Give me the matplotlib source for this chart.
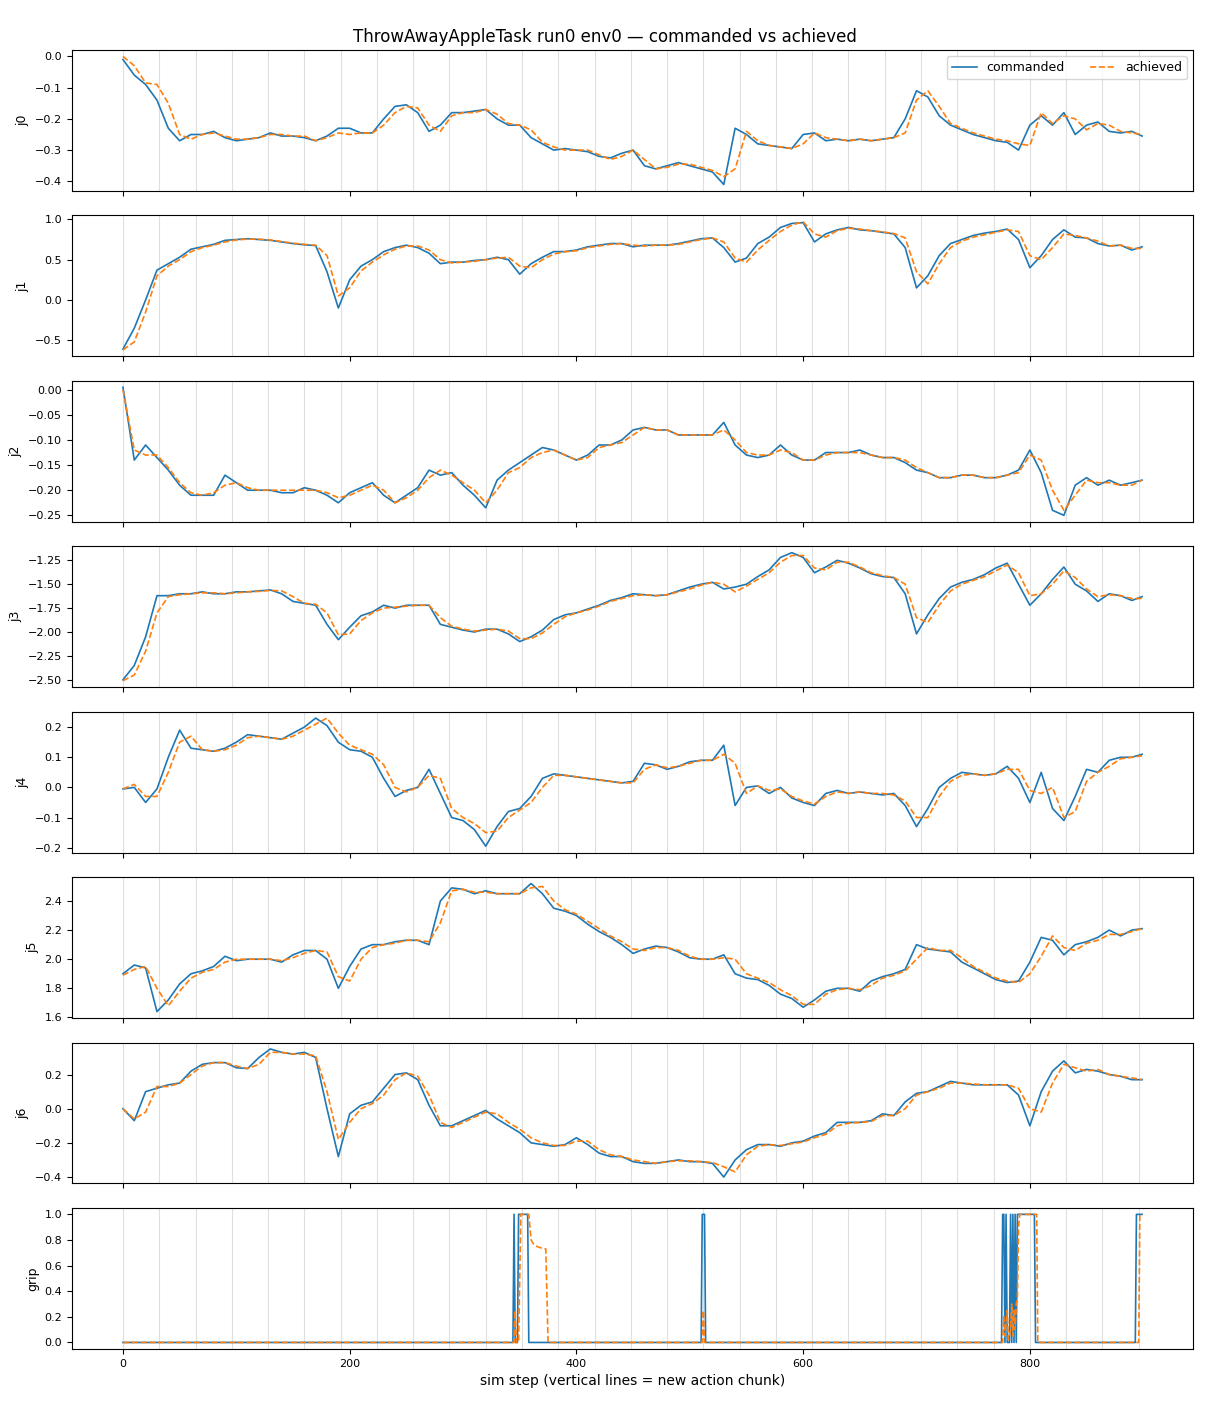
import matplotlib
matplotlib.use("Agg")
import matplotlib.pyplot as plt

# sim steps sampled every 10 steps (last one is the final step)
STEPS = list(range(0, 900, 10)) + [899]
CHUNK_STARTS = list(range(0, 900, 32))

J0_CMD = [-0.01, -0.06, -0.09, -0.14, -0.23, -0.27, -0.25, -0.25, -0.24, -0.26,
          -0.27, -0.265, -0.26, -0.245, -0.255, -0.255, -0.26, -0.27, -0.255, -0.23,
          -0.23, -0.245, -0.245, -0.2, -0.16, -0.155, -0.18, -0.24, -0.22, -0.18,
          -0.18, -0.175, -0.17, -0.2, -0.22, -0.22, -0.26, -0.28, -0.3, -0.295,
          -0.3, -0.305, -0.32, -0.325, -0.31, -0.3, -0.35, -0.36, -0.35, -0.34,
          -0.35, -0.36, -0.37, -0.41, -0.23, -0.25, -0.28, -0.285, -0.29, -0.295,
          -0.25, -0.245, -0.27, -0.265, -0.27, -0.265, -0.27, -0.265, -0.26, -0.2,
          -0.11, -0.13, -0.19, -0.22, -0.235, -0.25, -0.26, -0.27, -0.275, -0.3,
          -0.22, -0.19, -0.22, -0.18, -0.25, -0.22, -0.21, -0.24, -0.245, -0.24,
          -0.255]
J0_ACH = [0.0, -0.03, -0.085, -0.09, -0.15, -0.25, -0.265, -0.25, -0.245, -0.255,
          -0.265, -0.265, -0.26, -0.25, -0.25, -0.255, -0.255, -0.27, -0.26, -0.245,
          -0.25, -0.245, -0.245, -0.22, -0.18, -0.16, -0.165, -0.22, -0.24, -0.19,
          -0.18, -0.18, -0.17, -0.185, -0.215, -0.22, -0.235, -0.275, -0.29, -0.3,
          -0.3, -0.3, -0.315, -0.33, -0.32, -0.3, -0.33, -0.36, -0.355, -0.345,
          -0.345, -0.355, -0.365, -0.385, -0.36, -0.24, -0.27, -0.285, -0.29, -0.295,
          -0.28, -0.245, -0.26, -0.265, -0.27, -0.265, -0.27, -0.265, -0.26, -0.245,
          -0.14, -0.11, -0.16, -0.215, -0.23, -0.245, -0.255, -0.265, -0.27, -0.28,
          -0.285, -0.18, -0.215, -0.19, -0.2, -0.235, -0.215, -0.22, -0.24, -0.245,
          -0.25]

J1_CMD = [-0.61, -0.35, 0.0, 0.37, 0.45, 0.53, 0.63, 0.66, 0.69, 0.74,
          0.75, 0.76, 0.75, 0.74, 0.72, 0.7, 0.685, 0.675, 0.35, -0.1,
          0.25, 0.42, 0.5, 0.6, 0.65, 0.68, 0.65, 0.58, 0.45, 0.47,
          0.47, 0.49, 0.5, 0.53, 0.5, 0.32, 0.45, 0.53, 0.6, 0.6,
          0.62, 0.66, 0.68, 0.7, 0.7, 0.66, 0.68, 0.68, 0.68, 0.7,
          0.73, 0.76, 0.77, 0.65, 0.47, 0.52, 0.7, 0.78, 0.9, 0.95,
          0.96, 0.72, 0.82, 0.87, 0.9, 0.87, 0.86, 0.84, 0.82, 0.65,
          0.15, 0.3, 0.55, 0.7, 0.75, 0.8, 0.83, 0.85, 0.88, 0.75,
          0.4, 0.55, 0.75, 0.87, 0.78, 0.77, 0.7, 0.67, 0.68, 0.62,
          0.66]
J1_ACH = [-0.62, -0.52, -0.15, 0.3, 0.42, 0.5, 0.6, 0.65, 0.68, 0.72,
          0.745, 0.755, 0.755, 0.745, 0.725, 0.705, 0.69, 0.68, 0.55, 0.05,
          0.15, 0.36, 0.47, 0.56, 0.63, 0.67, 0.67, 0.62, 0.5, 0.46,
          0.47, 0.48, 0.5, 0.52, 0.53, 0.42, 0.4, 0.5, 0.57, 0.6,
          0.61, 0.65, 0.67, 0.69, 0.7, 0.68, 0.67, 0.68, 0.68, 0.69,
          0.72, 0.75, 0.77, 0.72, 0.52, 0.47, 0.62, 0.74, 0.85, 0.93,
          0.97, 0.82, 0.78, 0.86, 0.89, 0.88, 0.86, 0.845, 0.825, 0.77,
          0.35, 0.2, 0.45, 0.65, 0.73, 0.78, 0.81, 0.84, 0.87, 0.85,
          0.55, 0.5, 0.65, 0.82, 0.8, 0.77, 0.73, 0.67, 0.68, 0.64,
          0.64]

J2_CMD = [0.005, -0.14, -0.11, -0.135, -0.16, -0.19, -0.21, -0.21, -0.21, -0.17,
          -0.185, -0.2, -0.2, -0.2, -0.205, -0.205, -0.195, -0.2, -0.21, -0.225,
          -0.205, -0.195, -0.185, -0.21, -0.225, -0.21, -0.195, -0.16, -0.17, -0.165,
          -0.19, -0.21, -0.235, -0.18, -0.16, -0.145, -0.13, -0.115, -0.12, -0.13,
          -0.14, -0.13, -0.11, -0.11, -0.1, -0.08, -0.075, -0.08, -0.08, -0.09,
          -0.09, -0.09, -0.09, -0.065, -0.11, -0.13, -0.135, -0.13, -0.11, -0.13,
          -0.14, -0.14, -0.125, -0.125, -0.125, -0.12, -0.13, -0.135, -0.135, -0.145,
          -0.16, -0.165, -0.175, -0.175, -0.17, -0.17, -0.175, -0.175, -0.17, -0.16,
          -0.12, -0.165, -0.24, -0.25, -0.19, -0.175, -0.19, -0.18, -0.19, -0.185,
          -0.18]
J2_ACH = [0.0, -0.12, -0.13, -0.13, -0.155, -0.185, -0.205, -0.21, -0.205, -0.19,
          -0.185, -0.195, -0.2, -0.2, -0.2, -0.2, -0.2, -0.2, -0.205, -0.215,
          -0.21, -0.2, -0.19, -0.2, -0.225, -0.215, -0.2, -0.175, -0.16, -0.17,
          -0.185, -0.2, -0.225, -0.2, -0.165, -0.155, -0.135, -0.125, -0.12, -0.13,
          -0.14, -0.135, -0.115, -0.11, -0.105, -0.09, -0.075, -0.08, -0.08, -0.09,
          -0.09, -0.09, -0.09, -0.08, -0.1, -0.125, -0.13, -0.13, -0.12, -0.125,
          -0.14, -0.14, -0.13, -0.125, -0.125, -0.125, -0.13, -0.135, -0.135, -0.14,
          -0.155, -0.165, -0.175, -0.175, -0.17, -0.17, -0.175, -0.175, -0.17, -0.165,
          -0.13, -0.14, -0.2, -0.24, -0.21, -0.18, -0.185, -0.185, -0.19, -0.19,
          -0.18]

J3_CMD = [-2.5, -2.35, -2.05, -1.62, -1.62, -1.6, -1.6, -1.58, -1.6, -1.6,
          -1.58, -1.58, -1.57, -1.56, -1.6, -1.68, -1.7, -1.72, -1.92, -2.08,
          -1.95, -1.83, -1.79, -1.72, -1.75, -1.72, -1.72, -1.72, -1.92, -1.95,
          -1.98, -2.0, -1.97, -1.97, -2.02, -2.1, -2.05, -1.98, -1.87, -1.82,
          -1.8, -1.76, -1.72, -1.67, -1.64, -1.6, -1.61, -1.62, -1.61, -1.57,
          -1.53, -1.5, -1.48, -1.55, -1.53, -1.5, -1.42, -1.35, -1.22, -1.17,
          -1.22, -1.38, -1.32, -1.25, -1.28, -1.33, -1.39, -1.42, -1.43, -1.6,
          -2.02, -1.82, -1.65, -1.53, -1.48, -1.45, -1.4, -1.33, -1.28, -1.5,
          -1.72, -1.6, -1.45, -1.32, -1.5, -1.57, -1.68, -1.6, -1.62, -1.67,
          -1.63]
J3_ACH = [-2.51, -2.45, -2.2, -1.8, -1.63, -1.61, -1.6, -1.59, -1.59, -1.6,
          -1.59, -1.58, -1.575, -1.565, -1.57, -1.63, -1.7, -1.71, -1.8, -2.03,
          -2.02, -1.88, -1.8, -1.75, -1.74, -1.73, -1.72, -1.72, -1.85, -1.94,
          -1.97, -1.99, -1.98, -1.97, -1.99, -2.07, -2.07, -2.01, -1.92, -1.84,
          -1.8, -1.77, -1.73, -1.68, -1.65, -1.62, -1.61, -1.62, -1.61, -1.58,
          -1.55, -1.51, -1.48, -1.5, -1.58, -1.52, -1.45, -1.38, -1.27, -1.2,
          -1.2, -1.33, -1.35, -1.27, -1.27, -1.32, -1.38, -1.41, -1.43, -1.5,
          -1.85, -1.9, -1.72, -1.57, -1.5, -1.46, -1.42, -1.36, -1.3, -1.38,
          -1.62, -1.6, -1.5, -1.36, -1.43, -1.55, -1.63, -1.61, -1.62, -1.65,
          -1.65]

J4_CMD = [-0.005, 0.0, -0.05, -0.005, 0.1, 0.19, 0.13, 0.125, 0.12, 0.13,
          0.15, 0.175, 0.17, 0.165, 0.16, 0.18, 0.2, 0.23, 0.205, 0.15,
          0.125, 0.12, 0.1, 0.03, -0.03, -0.01, 0.0, 0.06, -0.02, -0.1,
          -0.11, -0.14, -0.195, -0.13, -0.08, -0.07, -0.03, 0.03, 0.045, 0.04,
          0.035, 0.03, 0.025, 0.02, 0.015, 0.02, 0.08, 0.075, 0.06, 0.07,
          0.085, 0.09, 0.09, 0.14, -0.06, 0.0, 0.005, -0.02, 0.0, -0.035,
          -0.05, -0.06, -0.02, -0.01, -0.02, -0.015, -0.02, -0.025, -0.02, -0.06,
          -0.13, -0.07, 0.0, 0.03, 0.05, 0.045, 0.04, 0.045, 0.07, 0.03,
          -0.05, 0.05, -0.07, -0.11, -0.03, 0.06, 0.05, 0.09, 0.1, 0.1,
          0.11]
J4_ACH = [-0.005, 0.01, -0.03, -0.03, 0.05, 0.15, 0.17, 0.125, 0.12, 0.125,
          0.14, 0.165, 0.17, 0.165, 0.16, 0.17, 0.19, 0.21, 0.23, 0.18,
          0.14, 0.125, 0.11, 0.075, 0.0, -0.015, 0.0, 0.04, 0.03, -0.07,
          -0.1, -0.12, -0.15, -0.145, -0.1, -0.075, -0.05, 0.0, 0.04, 0.04,
          0.035, 0.03, 0.025, 0.02, 0.015, 0.015, 0.06, 0.075, 0.065, 0.07,
          0.08, 0.09, 0.09, 0.11, 0.08, -0.02, 0.005, -0.01, -0.005, -0.03,
          -0.045, -0.055, -0.03, -0.015, -0.02, -0.015, -0.02, -0.02, -0.025, -0.045,
          -0.1, -0.1, -0.03, 0.02, 0.04, 0.045, 0.04, 0.045, 0.06, 0.06,
          -0.01, -0.02, 0.0, -0.1, -0.08, 0.02, 0.05, 0.07, 0.095, 0.1,
          0.105]

J5_CMD = [1.9, 1.96, 1.94, 1.64, 1.72, 1.83, 1.9, 1.92, 1.95, 2.02,
          1.99, 2.0, 2.0, 2.0, 1.98, 2.03, 2.06, 2.06, 2.0, 1.8,
          1.95, 2.07, 2.1, 2.1, 2.12, 2.13, 2.13, 2.1, 2.4, 2.49,
          2.48, 2.45, 2.47, 2.45, 2.45, 2.45, 2.52, 2.45, 2.35, 2.33,
          2.3, 2.24, 2.19, 2.15, 2.1, 2.04, 2.07, 2.09, 2.08, 2.05,
          2.01, 2.0, 2.0, 2.03, 1.9, 1.87, 1.86, 1.82, 1.76, 1.73,
          1.67, 1.72, 1.78, 1.8, 1.8, 1.78, 1.85, 1.88, 1.9, 1.93,
          2.1, 2.07, 2.06, 2.05, 1.98, 1.94, 1.9, 1.86, 1.84, 1.85,
          1.98, 2.15, 2.13, 2.03, 2.1, 2.12, 2.15, 2.2, 2.16, 2.2,
          2.21]
J5_ACH = [1.89, 1.93, 1.95, 1.8, 1.68, 1.78, 1.87, 1.91, 1.93, 1.98,
          2.0, 2.0, 2.0, 2.0, 1.99, 2.01, 2.04, 2.06, 2.05, 1.88,
          1.85, 2.0, 2.08, 2.1, 2.11, 2.13, 2.13, 2.12, 2.25, 2.47,
          2.48, 2.46, 2.46, 2.45, 2.45, 2.45, 2.49, 2.5, 2.4, 2.34,
          2.31, 2.26, 2.21, 2.16, 2.12, 2.07, 2.06, 2.08, 2.08, 2.06,
          2.02, 2.0, 2.0, 2.01, 2.0, 1.9, 1.87, 1.84, 1.79, 1.75,
          1.69, 1.69, 1.76, 1.79, 1.8, 1.79, 1.82, 1.87, 1.89, 1.92,
          2.0, 2.08, 2.06, 2.06, 2.01, 1.95, 1.91, 1.87, 1.85, 1.84,
          1.9, 2.02, 2.16, 2.08, 2.06, 2.11, 2.13, 2.17, 2.17, 2.19,
          2.21]

J6_CMD = [0.0, -0.07, 0.1, 0.12, 0.14, 0.15, 0.22, 0.26, 0.27, 0.27,
          0.24, 0.235, 0.3, 0.35, 0.33, 0.32, 0.33, 0.3, 0.0, -0.28,
          -0.03, 0.02, 0.04, 0.12, 0.2, 0.21, 0.17, 0.02, -0.1, -0.1,
          -0.07, -0.04, -0.01, -0.06, -0.1, -0.14, -0.2, -0.21, -0.22, -0.21,
          -0.17, -0.21, -0.26, -0.28, -0.28, -0.31, -0.32, -0.32, -0.31, -0.3,
          -0.31, -0.31, -0.32, -0.4, -0.3, -0.24, -0.21, -0.21, -0.22, -0.2,
          -0.19, -0.16, -0.14, -0.08, -0.08, -0.08, -0.07, -0.03, -0.04, 0.04,
          0.09, 0.1, 0.13, 0.16, 0.15, 0.14, 0.14, 0.14, 0.14, 0.08,
          -0.1, 0.1, 0.22, 0.28, 0.21, 0.23, 0.22, 0.2, 0.19, 0.17,
          0.17]
J6_ACH = [0.0, -0.06, -0.02, 0.13, 0.13, 0.15, 0.2, 0.25, 0.27, 0.27,
          0.25, 0.235, 0.26, 0.33, 0.33, 0.32, 0.32, 0.31, 0.1, -0.18,
          -0.08, 0.0, 0.03, 0.08, 0.17, 0.21, 0.19, 0.08, -0.08, -0.11,
          -0.08, -0.05, -0.02, -0.03, -0.08, -0.12, -0.17, -0.2, -0.215, -0.215,
          -0.19, -0.19, -0.24, -0.27, -0.28, -0.3, -0.31, -0.32, -0.31, -0.305,
          -0.305, -0.31, -0.315, -0.34, -0.37, -0.27, -0.22, -0.21, -0.215, -0.205,
          -0.195, -0.17, -0.15, -0.1, -0.085, -0.08, -0.075, -0.04, -0.04, 0.0,
          0.08, 0.1, 0.12, 0.15, 0.15, 0.145, 0.14, 0.14, 0.14, 0.12,
          0.0, -0.02, 0.15, 0.26, 0.24, 0.22, 0.23, 0.2, 0.19, 0.18,
          0.17]

# gripper: open/close events, so keep the change points only
GRIP_CMD_STEPS = [0, 344, 345, 346, 348, 349, 357, 358, 510, 511, 513, 514,
                  775, 776, 777, 778, 779, 780, 782, 783, 784, 785, 786, 787,
                  788, 789, 804, 805, 893, 894, 899]
GRIP_CMD = [0, 0, 1, 0, 0, 1, 1, 0, 0, 1, 1, 0,
            0, 1, 1, 0, 1, 0, 0, 1, 0, 1, 0, 1,
            0, 1, 1, 0, 0, 1, 1]
GRIP_ACH_STEPS = [0, 345, 346, 347, 349, 350, 351, 358, 359, 360, 362, 365,
                  368, 373, 375, 511, 512, 513, 776, 777, 778, 780, 781, 783,
                  784, 785, 786, 787, 788, 789, 790, 791, 806, 807, 896, 897, 899]
GRIP_ACH = [0, 0, 0.25, 0, 0, 0.5, 1, 1, 0.9, 0.8, 0.77, 0.75,
            0.74, 0.73, 0, 0, 0.25, 0, 0, 0.2, 0.05, 0.25, 0.02, 0.1,
            0.3, 0.05, 0.25, 0.1, 0.3, 0.35, 0.9, 1, 1, 0, 0, 1, 1]

JOINTS = [
    ("j0", J0_CMD, J0_ACH),
    ("j1", J1_CMD, J1_ACH),
    ("j2", J2_CMD, J2_ACH),
    ("j3", J3_CMD, J3_ACH),
    ("j4", J4_CMD, J4_ACH),
    ("j5", J5_CMD, J5_ACH),
    ("j6", J6_CMD, J6_ACH),
]

fig, axes = plt.subplots(8, 1, figsize=(12.1, 14.08), dpi=100, sharex=True)
fig.subplots_adjust(left=0.0595, right=0.986, top=0.9645, bottom=0.042, hspace=0.174)

for ax, (name, cmd, ach) in zip(axes[:7], JOINTS):
    ax.plot(STEPS, cmd, color="tab:blue", lw=1.2, label="commanded")
    ax.plot(STEPS, ach, color="tab:orange", lw=1.2, ls="--", label="achieved")
    ax.set_ylabel(name, fontsize=9)

ax = axes[7]
ax.plot(GRIP_CMD_STEPS, GRIP_CMD, color="tab:blue", lw=1.2, label="commanded")
ax.plot(GRIP_ACH_STEPS, GRIP_ACH, color="tab:orange", lw=1.2, ls="--", label="achieved")
ax.set_ylabel("grip", fontsize=9)
ax.set_xlabel("sim step (vertical lines = new action chunk)", fontsize=10)

for ax in axes:
    for s in CHUNK_STARTS:
        ax.axvline(s, color="gray", alpha=0.25, lw=0.8, zorder=0)
    ax.tick_params(labelsize=8)

axes[0].legend(loc="upper right", ncol=2, fontsize=9)
fig.suptitle("ThrowAwayAppleTask run0 env0 \u2014 commanded vs achieved", fontsize=12, y=0.98)

fig.savefig("out.png", dpi=100)
